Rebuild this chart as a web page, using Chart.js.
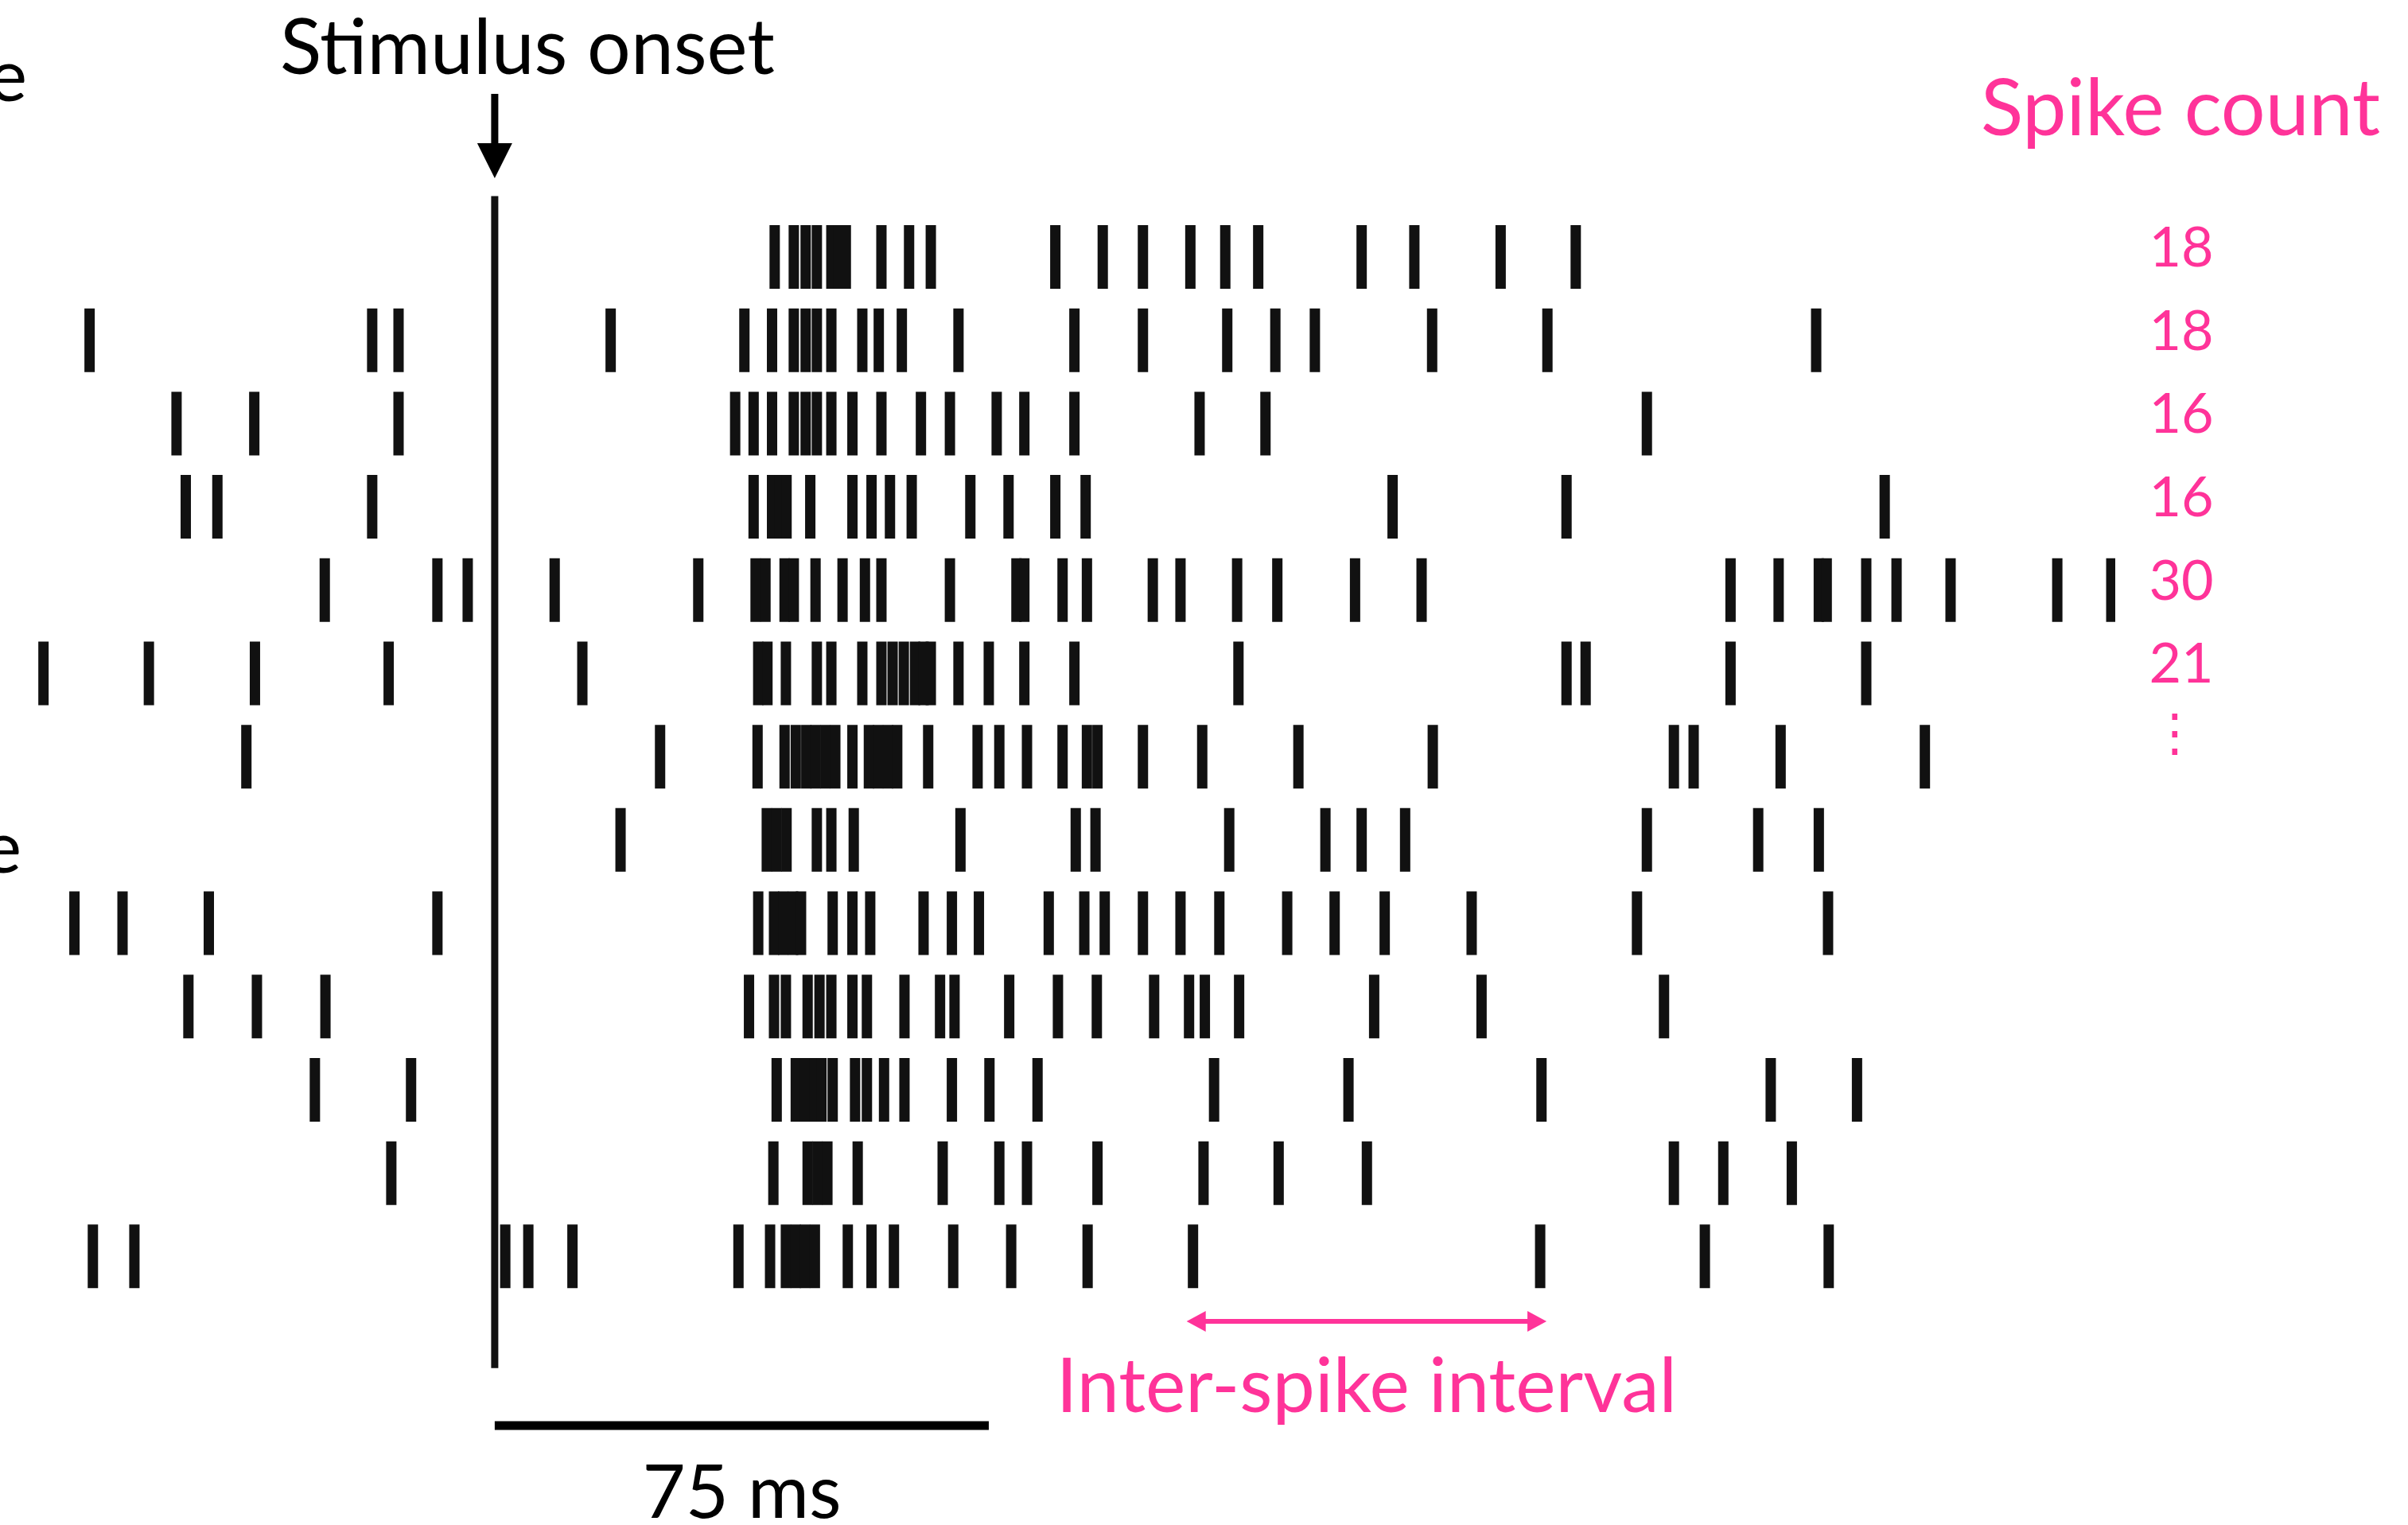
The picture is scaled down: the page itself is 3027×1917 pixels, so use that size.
<!DOCTYPE html>
<html>
<head>
<meta charset="utf-8">
<script src="https://cdn.jsdelivr.net/npm/chart.js@4.4.1/dist/chart.umd.min.js"></script>
<style>
  html, body { margin: 0; padding: 0; background: #ffffff; overflow: hidden; }
  #wrap { width: 3027px; height: 1917px; position: relative; }
</style>
</head>
<body>
<div id="wrap"><canvas id="c" width="3027" height="1917"></canvas></div>
<script>
// ---------------- DATA (spike times in ms relative to stimulus onset) ----------------
const trial01 = [42.5, 45.4, 47.2, 48.9, 51.1, 52.2, 53.3, 58.7, 62.9, 66.2, 85.1, 92.3, 98.4, 105.6, 110.9, 115.9, 131.6, 139.6, 152.7, 164.1];
const trial02 = [-61.5, -18.6, -14.6, 17.6, 37.9, 42.1, 45.4, 47.2, 48.9, 51.1, 55.8, 58.3, 61.8, 70.4, 88.0, 98.4, 111.2, 118.5, 124.5, 142.3, 159.8, 200.6];
const trial03 = [-48.3, -36.5, -14.6, 36.5, 39.3, 42.1, 45.4, 47.2, 48.9, 51.1, 54.3, 58.7, 64.7, 69.1, 76.2, 80.4, 88.0, 107.0, 117.0, 174.9];
const trial04 = [-46.9, -42.1, -18.6, 39.3, 42.1, 43.2, 44.3, 47.9, 54.3, 57.2, 60.0, 63.3, 72.2, 78.0, 85.1, 89.7, 136.3, 162.7, 211.0];
const trial05 = [-25.8, -8.7, -4.1, 9.1, 30.9, 39.6, 41.1, 44.0, 45.4, 48.7, 52.8, 56.2, 58.7, 69.1, 79.2, 80.4, 86.2, 89.9, 99.9, 104.1, 112.7, 118.8, 130.6, 140.7, 187.6, 194.9, 201.0, 202.2, 208.2, 212.8, 221.0, 237.2, 245.4];
const trial06 = [-68.5, -52.5, -36.4, -16.1, 13.3, 40.0, 41.4, 44.2, 48.9, 51.1, 55.8, 58.7, 60.4, 62.1, 63.8, 65.1, 66.2, 70.4, 75.0, 80.4, 88.0, 112.9, 162.7, 165.6, 187.6, 208.2];
const trial07 = [-37.7, 25.1, 39.9, 44.0, 45.7, 47.3, 48.7, 50.2, 51.7, 54.3, 56.8, 58.2, 59.7, 61.1, 65.8, 73.3, 76.6, 80.8, 86.2, 89.9, 91.5, 98.4, 107.4, 122.0, 142.4, 179.0, 182.0, 195.2, 217.1];
const trial08 = [19.1, 41.3, 42.8, 44.3, 48.9, 51.1, 54.5, 70.7, 88.2, 91.2, 111.5, 126.1, 131.6, 138.2, 174.9, 191.8, 201.0];
const trial09 = [-63.8, -56.5, -43.4, -8.7, 40.0, 42.4, 43.8, 45.3, 46.5, 51.3, 54.3, 57.0, 65.1, 69.4, 73.5, 84.1, 89.5, 92.6, 98.4, 104.1, 110.0, 120.3, 127.5, 135.1, 148.3, 173.4, 202.4];
const trial10 = [-46.5, -36.1, -25.7, 38.6, 42.4, 44.2, 47.5, 49.3, 51.1, 54.3, 56.5, 62.2, 67.6, 69.8, 78.1, 85.5, 91.4, 100.1, 105.4, 107.8, 113.0, 133.5, 149.8, 177.5];
const trial11 = [-27.3, -12.7, 42.8, 45.7, 47.1, 48.5, 49.6, 51.3, 54.7, 56.5, 59.1, 62.2, 69.4, 75.1, 82.4, 109.2, 129.6, 158.9, 193.7, 206.8];
const trial12 = [-15.7, 42.3, 47.5, 49.0, 50.5, 55.1, 68.0, 76.6, 80.8, 91.5, 107.6, 119.0, 132.4, 179.0, 186.5, 196.9];
const trial13 = [-61.0, -54.7, 1.6, 5.1, 11.8, 37.0, 41.8, 44.2, 45.7, 47.1, 48.6, 53.6, 57.2, 60.6, 69.6, 78.4, 90.0, 106.0, 158.7, 183.7, 202.5];

const trials = [trial01, trial02, trial03, trial04, trial05, trial06, trial07, trial08, trial09, trial10, trial11, trial12, trial13];
const spikeCountLabels = ['18', '18', '16', '16', '30', '21', '\u22EE'];
const stimulusOnsetMs = 0;
const scaleBarMs = 75;
const scaleBarLabel = '75 ms';
const isiStartMs = 106.0;   // two consecutive spikes of trial 13
const isiEndMs = 158.7;

// ---------------- STYLE ----------------
const PINK = '#ff3399';
const INK = '#111111';
const FONT = 'Lato, "Noto Sans", "DejaVu Sans", sans-serif';

function fitFont(ctx, text, targetWidth, weight) {
  ctx.font = (weight || '400') + ' 100px ' + FONT;
  const w = ctx.measureText(text).width;
  const size = 100 * targetWidth / w;
  ctx.font = (weight || '400') + ' ' + size.toFixed(1) + 'px ' + FONT;
  return size;
}

const datasets = trials.map((times, i) => ({
  label: 'Trial ' + (i + 1),
  data: times.map(t => ({ x: t, y: i + 1 })),
  pointStyle: 'line',
  rotation: 90,
  radius: 40,
  hoverRadius: 40,
  borderWidth: 13,
  borderColor: INK,
  backgroundColor: INK,
  showLine: false,
  clip: { left: false, top: false, right: 0, bottom: false }
}));

datasets.push({
  type: 'line',
  label: 'Stimulus onset',
  data: [{ x: stimulusOnsetMs, y: 1 - 0.73 }, { x: stimulusOnsetMs, y: trials.length + 1.34 }],
  borderColor: INK,
  borderWidth: 9,
  pointRadius: 0,
  showLine: true,
  clip: false
});

const annotations = {
  id: 'annotations',
  afterDraw(chart) {
    const ctx = chart.ctx;
    const xs = chart.scales.x, ys = chart.scales.y;
    const x0 = xs.getPixelForValue(stimulusOnsetMs);
    ctx.save();

    // partially visible words at the left edge
    ctx.fillStyle = '#000';
    ctx.font = '400 92px ' + FONT;
    ctx.textAlign = 'right';
    ctx.textBaseline = 'alphabetic';
    ctx.fillText('e', 34, 127);
    ctx.fillText('e', 27, 1097);

    // Stimulus onset label + arrow
    fitFont(ctx, 'Stimulus onset', 622);
    ctx.textAlign = 'center';
    ctx.fillText('Stimulus onset', x0 + 41, 93);
    ctx.strokeStyle = '#000';
    ctx.lineWidth = 9;
    ctx.beginPath(); ctx.moveTo(x0, 118); ctx.lineTo(x0, 186); ctx.stroke();
    ctx.beginPath(); ctx.moveTo(x0 - 22, 180); ctx.lineTo(x0 + 22, 180); ctx.lineTo(x0, 224); ctx.closePath(); ctx.fill();

    // Spike count header + counts
    ctx.fillStyle = PINK;
    fitFont(ctx, 'Spike count', 502);
    ctx.textAlign = 'left';
    ctx.fillText('Spike count', 2490, 170);
    ctx.textAlign = 'center';
    spikeCountLabels.forEach((lab, i) => {
      const yp = ys.getPixelForValue(i + 1);
      if (lab === '\u22EE') {
        ctx.font = '400 64px "DejaVu Sans", sans-serif';
        ctx.fillText(lab, 2734, yp - 8);
      } else {
        ctx.font = '400 70px ' + FONT;
        ctx.fillText(lab, 2742, yp + 12);
      }
    });

    // Inter-spike interval arrow
    const xa = xs.getPixelForValue(isiStartMs) - 8;
    const xb = xs.getPixelForValue(isiEndMs) + 8;
    const ya = 1661;
    ctx.strokeStyle = PINK;
    ctx.lineWidth = 6;
    ctx.beginPath(); ctx.moveTo(xa + 15, ya); ctx.lineTo(xb - 15, ya); ctx.stroke();
    ctx.beginPath(); ctx.moveTo(xa, ya); ctx.lineTo(xa + 24, ya - 13); ctx.lineTo(xa + 24, ya + 13); ctx.closePath(); ctx.fill();
    ctx.beginPath(); ctx.moveTo(xb, ya); ctx.lineTo(xb - 24, ya - 13); ctx.lineTo(xb - 24, ya + 13); ctx.closePath(); ctx.fill();
    fitFont(ctx, 'Inter-spike interval', 780);
    ctx.fillText('Inter-spike interval', (xa + xb) / 2, 1775);

    // Scale bar
    const s0 = xs.getPixelForValue(stimulusOnsetMs);
    const s1 = xs.getPixelForValue(stimulusOnsetMs + scaleBarMs);
    ctx.strokeStyle = '#000';
    ctx.lineWidth = 11;
    ctx.beginPath(); ctx.moveTo(s0, 1792); ctx.lineTo(s1, 1792); ctx.stroke();
    ctx.fillStyle = '#000';
    fitFont(ctx, scaleBarLabel, 250);
    ctx.fillText(scaleBarLabel, (s0 + s1) / 2, 1908);

    ctx.restore();
  }
};

new Chart(document.getElementById('c'), {
  type: 'scatter',
  data: { datasets },
  options: {
    responsive: false,
    devicePixelRatio: 1,
    animation: false,
    events: [],
    layout: { autoPadding: false, padding: { left: 0, top: 0, right: 368, bottom: 0 } },
    plugins: { legend: { display: false }, tooltip: { enabled: false } },
    scales: {
      x: { type: 'linear', min: -75.1, max: 246.0, display: false },
      y: { type: 'linear', min: -2.085, max: 16.225, reverse: true, display: false }
    }
  },
  plugins: [annotations]
});
</script>
</body>
</html>
